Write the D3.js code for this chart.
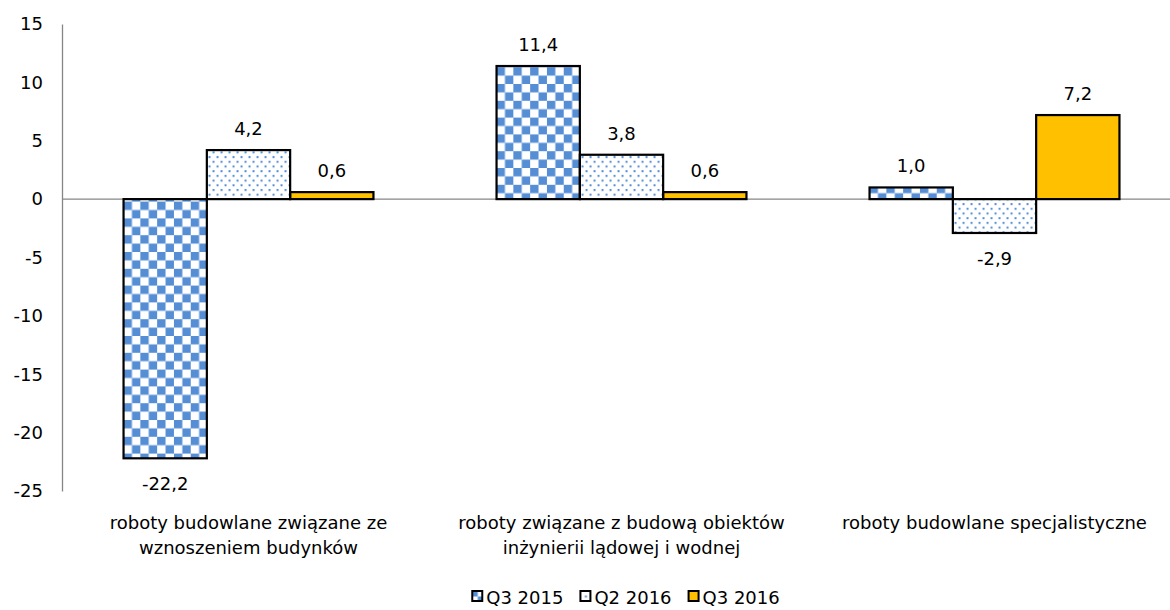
<!DOCTYPE html>
<html>
<head>
<meta charset="utf-8">
<script src="https://cdn.jsdelivr.net/npm/d3@7"></script>
<style>
  html, body { margin: 0; padding: 0; background: #fff; }
  svg { display: block; font-family: "DejaVu Sans", sans-serif; }
</style>
</head>
<body>
<svg id="chart" width="1170" height="610"></svg>
<script>
// Categories (each label split into lines)
const categories = [
  ["roboty budowlane związane ze", "wznoszeniem budynków"],
  ["roboty związane z budową obiektów", "inżynierii lądowej i wodnej"],
  ["roboty budowlane specjalistyczne"]
];
const seriesNames = ["Q3 2015", "Q2 2016", "Q3 2016"];
const q3_2015 = [-22.2, 11.4, 1.0];
const q2_2016 = [4.2, 3.8, -2.9];
const q3_2016 = [0.6, 0.6, 7.2];
const yTicks = [15, 10, 5, 0, -5, -10, -15, -20, -25];

const seriesValues = [q3_2015, q2_2016, q3_2016];
const fills = ["url(#checker)", "url(#dots)", "#FFC000"];

const W = 1170, H = 610;
const plot = { left: 62, right: 1181, top: 24, bottom: 491 };
const FS = 18;

const svg = d3.select("#chart");

// Fill patterns
const defs = svg.append("defs");
const cell = 8.4;
const chk = defs.append("pattern").attr("id", "checker")
  .attr("patternUnits", "userSpaceOnUse").attr("width", cell * 2).attr("height", cell * 2);
chk.append("rect").attr("width", cell * 2).attr("height", cell * 2).attr("fill", "#fff");
chk.append("rect").attr("width", cell).attr("height", cell).attr("fill", "#558ED5");
chk.append("rect").attr("x", cell).attr("y", cell).attr("width", cell).attr("height", cell).attr("fill", "#558ED5");

const dp = defs.append("pattern").attr("id", "dots")
  .attr("patternUnits", "userSpaceOnUse").attr("width", 8).attr("height", 9.4);
dp.append("rect").attr("width", 8).attr("height", 9.4).attr("fill", "#fff");
dp.append("rect").attr("x", 1).attr("y", 1).attr("width", 2).attr("height", 2).attr("fill", "#558ED5");
dp.append("rect").attr("x", 5).attr("y", 5.7).attr("width", 2).attr("height", 2).attr("fill", "#558ED5");

// Small legend swatch patterns
const cs = defs.append("pattern").attr("id", "checkerSmall")
  .attr("patternUnits", "objectBoundingBox").attr("width", 1).attr("height", 1);
cs.append("rect").attr("width", 11).attr("height", 11).attr("fill", "#fff");
cs.append("rect").attr("width", 5.5).attr("height", 5.5).attr("fill", "#558ED5");
cs.append("rect").attr("x", 5.5).attr("y", 5.5).attr("width", 5.5).attr("height", 5.5).attr("fill", "#558ED5");
const ds = defs.append("pattern").attr("id", "dotsSmall")
  .attr("patternUnits", "objectBoundingBox").attr("width", 1).attr("height", 1);
ds.append("rect").attr("width", 11).attr("height", 11).attr("fill", "#fff");
ds.append("rect").attr("x", 4.5).attr("y", 4.5).attr("width", 2).attr("height", 2).attr("fill", "#558ED5");

// Scales
const y = d3.scaleLinear().domain([-25, 15]).range([plot.bottom, plot.top]);
const x0 = d3.scaleBand().domain(d3.range(categories.length))
  .range([plot.left, plot.right]).paddingInner(0.33).paddingOuter(0.165);
const x1 = d3.scaleBand().domain(d3.range(seriesNames.length)).range([0, x0.bandwidth()]);

// Y axis
const yAxis = d3.axisLeft(y).tickValues(yTicks).tickSize(0).tickPadding(19).tickFormat(d3.format("d"));
const gy = svg.append("g").attr("transform", `translate(${plot.left},0)`).call(yAxis);
gy.select(".domain").attr("stroke", "#868686").attr("stroke-width", 1.3);
gy.selectAll("text").attr("font-size", FS).attr("fill", "#000")
  .attr("font-family", "DejaVu Sans")
  .text(d => d < 0 ? "-" + Math.abs(d) : d);

// Bars
const groups = svg.append("g").selectAll("g")
  .data(categories.map((c, i) => i))
  .join("g")
  .attr("transform", i => `translate(${x0(i)},0)`);

const fmt = v => v.toFixed(1).replace(".", ",");
const barData = i => seriesValues.map((s, k) => ({ k, v: s[i] }));

groups.selectAll("rect.b")
  .data(barData)
  .join("rect").attr("class", "b")
  .attr("x", d => x1(d.k))
  .attr("width", x1.bandwidth())
  .attr("y", d => y(Math.max(0, d.v)))
  .attr("height", d => Math.abs(y(d.v) - y(0)))
  .attr("fill", d => fills[d.k]);

// Zero line
svg.append("line")
  .attr("x1", plot.left).attr("x2", W)
  .attr("y1", y(0)).attr("y2", y(0))
  .attr("stroke", "#868686").attr("stroke-width", 1.3);

// Bar outlines on top of the zero line
svg.append("g").selectAll("g")
  .data(categories.map((c, i) => i))
  .join("g")
  .attr("transform", i => `translate(${x0(i)},0)`)
  .selectAll("rect")
  .data(barData)
  .join("rect")
  .attr("x", d => x1(d.k))
  .attr("width", x1.bandwidth())
  .attr("y", d => y(Math.max(0, d.v)))
  .attr("height", d => Math.abs(y(d.v) - y(0)))
  .attr("fill", "none")
  .attr("stroke", "#000").attr("stroke-width", 2.2);

// Value labels
groups.selectAll("text.val")
  .data(barData)
  .join("text").attr("class", "val")
  .attr("x", d => x1(d.k) + x1.bandwidth() / 2)
  .attr("y", d => d.v >= 0 ? y(d.v) - 15 : y(d.v) + 32)
  .attr("text-anchor", "middle")
  .attr("font-size", FS)
  .text(d => fmt(d.v));

// Category labels, centred under each group
const catG = svg.append("g");
categories.forEach((lines, i) => {
  const t = catG.append("text").attr("font-size", FS).attr("text-anchor", "middle")
    .attr("transform", `translate(${x0(i) + x0.bandwidth() / 2},0)`);
  lines.forEach((ln, j) => {
    t.append("tspan").attr("x", 0).attr("y", 529 + j * 25).text(ln);
  });
});

// Legend
const legendItems = seriesNames.map((n, k) => ({ n, k }));
const legend = svg.append("g");
const li = legend.selectAll("g").data(legendItems).join("g");
li.append("rect").attr("x", 1).attr("y", -13).attr("width", 10).attr("height", 10)
  .attr("fill", d => d.k === 0 ? "url(#checkerSmall)" : d.k === 1 ? "url(#dotsSmall)" : fills[d.k])
  .attr("stroke", "#000").attr("stroke-width", 2);
li.append("text").attr("x", 15).attr("y", 0).attr("font-size", FS).text(d => d.n);

let lx = 0;
li.each(function () {
  d3.select(this).attr("transform", `translate(${lx},0)`);
  lx += this.getBBox().width + 17;
});
const lw = lx - 17;
legend.attr("transform", `translate(${(W - lw) / 2 + 40},604)`);
</script>
</body>
</html>
